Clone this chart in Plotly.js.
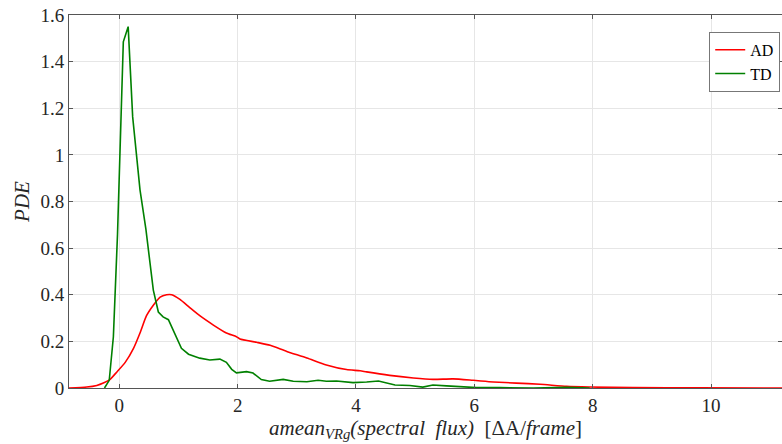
<!DOCTYPE html>
<html><head><meta charset="utf-8">
<script src="https://cdn.plot.ly/plotly-3.0.1.min.js"></script>
<style>html,body{margin:0;padding:0;background:#fff;}#chart{width:782px;height:444px;}</style>
</head><body><div id="chart"></div>
<script>
const adX = [-0.85,-0.55,-0.38,-0.27,-0.16,-0.04,0.10,0.24,0.35,0.46,0.575,0.69,0.80,0.885,1.025,1.19,1.36,1.59,1.81,1.98,2.04,2.32,2.55,2.83,3.17,3.50,3.84,4.07,4.18,4.57,4.97,5.30,5.64,5.98,6.32,6.71,7.11,7.56,7.95,8.68,9.8,11.2];
const adY = [0,0.004,0.011,0.021,0.036,0.069,0.11,0.17,0.236,0.31,0.355,0.39,0.40,0.40,0.38,0.345,0.31,0.27,0.236,0.22,0.21,0.196,0.183,0.157,0.129,0.099,0.079,0.074,0.069,0.054,0.043,0.037,0.039,0.033,0.026,0.021,0.016,0.007,0.004,0.0015,0.0005,0];
const tdX = [-0.25,-0.17,-0.10,-0.03,0.068,0.15,0.226,0.35,0.45,0.575,0.66,0.74,0.83,0.91,1.05,1.17,1.36,1.53,1.70,1.81,1.90,1.98,2.15,2.26,2.40,2.54,2.77,2.94,3.17,3.36,3.50,3.67,3.95,4.18,4.38,4.66,4.91,5.13,5.30,5.53,5.81,6.04,6.43,7.0,7.56,7.95];
const tdY = [0,0.033,0.22,0.66,1.485,1.55,1.163,0.85,0.68,0.42,0.326,0.305,0.293,0.25,0.17,0.145,0.128,0.12,0.124,0.11,0.08,0.065,0.07,0.064,0.036,0.029,0.037,0.029,0.027,0.033,0.029,0.030,0.023,0.026,0.030,0.013,0.011,0.004,0.013,0.009,0.006,0.0015,0.0015,0,0.003,0];
const xTicks = [0,2,4,6,8,10];
const yTicks = [0,0.2,0.4,0.6,0.8,1,1.2,1.4,1.6];
const yTickText = ['0','0.2','0.4','0.6','0.8','1','1.2','1.4','1.6'];

const serif = 'Liberation Serif';
const traces = [
  {x: adX, y: adY, mode: 'lines', name: 'AD', line: {color: '#ff0000', width: 1.6, shape: 'spline', smoothing: 0.6}},
  {x: tdX, y: tdY, mode: 'lines', name: 'TD', line: {color: '#008000', width: 1.6}}
];
const layout = {
  width: 782, height: 444,
  font: {family: serif, size: 19, color: '#262626'},
  margin: {l: 69, r: 0, t: 15, b: 56},
  paper_bgcolor: '#fff', plot_bgcolor: '#fff',
  showlegend: true,
  xaxis: {
    showline: true, linecolor: '#555', linewidth: 1, mirror: 'ticks',
    ticks: 'inside', ticklen: 4, tickcolor: '#555',
    showgrid: true, gridcolor: '#e6e6e6', zeroline: false,
    tickfont: {family: 'Liberation Serif', size: 19, color: '#262626'},
    range: [-0.85, 11.2], tickmode: 'array', tickvals: xTicks, ticktext: xTicks.map(String),
    title: {text: '<i>amean</i><sub><i>VRg</i></sub><i>(spectral  flux)</i>  [ΔA/<i>frame</i>]', font: {family: serif, size: 21, color: '#262626'}, standoff: 2}
  },
  yaxis: {
    showline: true, linecolor: '#555', linewidth: 1, mirror: 'ticks',
    ticks: 'inside', ticklen: 4, tickcolor: '#555',
    showgrid: true, gridcolor: '#e6e6e6', zeroline: false,
    tickfont: {family: 'Liberation Serif', size: 19, color: '#262626'},
    range: [0, 1.6], tickmode: 'array', tickvals: yTicks, ticktext: yTickText,
    title: {text: '<i>PDE</i>', font: {family: serif, size: 21, color: '#262626'}, standoff: 5}
  },
  legend: {
    x: 0.9975, xanchor: 'right', y: 0.955, yanchor: 'top',
    bgcolor: '#fff', bordercolor: '#777', borderwidth: 1,
    font: {family: serif, size: 16, color: '#000'},
    tracegroupgap: 0, itemwidth: 30
  }
};
Plotly.newPlot('chart', traces, layout, {displayModeBar: false, staticPlot: true});
</script></body></html>
